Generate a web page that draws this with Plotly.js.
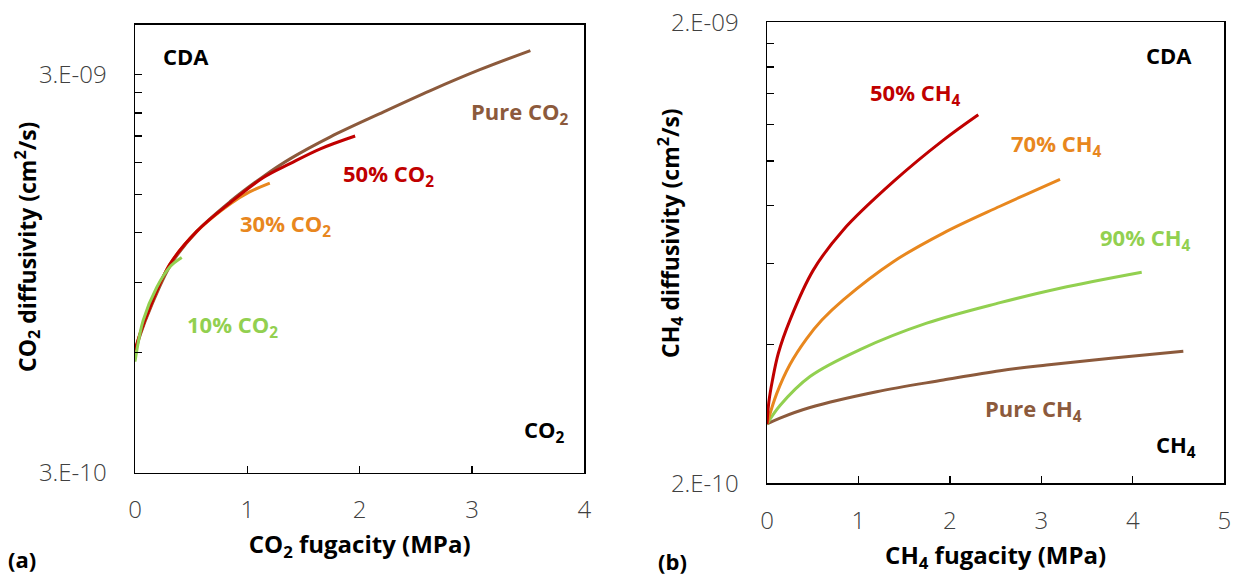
<!DOCTYPE html>
<html>
<head>
<meta charset="utf-8">
<script src="https://cdn.plot.ly/plotly-3.0.1.min.js"></script>
<style>html,body{margin:0;padding:0;background:#fff;}#chart{width:1239px;height:577px;}</style>
</head>
<body>
<div id="chart"></div>
<script>
// ---- Panel (a): CO2 diffusivity vs CO2 fugacity (MPa) ----
const pureCO2_f = [0, 0.05, 0.14, 0.32, 0.55, 0.85, 1.14, 1.38, 1.74, 2.18, 2.63, 3.07, 3.52];
const pureCO2_D = [6.0e-10, 6.7e-10, 7.8e-10, 1.0e-9, 1.21e-9, 1.44e-9, 1.66e-9, 1.84e-9, 2.09e-9, 2.39e-9, 2.73e-9, 3.08e-9, 3.44e-9];
const co2_50_f = [0, 0.045, 0.134, 0.31, 0.55, 0.85, 1.14, 1.38, 1.65, 1.96];
const co2_50_D = [6.1e-10, 6.7e-10, 7.8e-10, 1.0e-9, 1.21e-9, 1.43e-9, 1.65e-9, 1.79e-9, 1.95e-9, 2.10e-9];
const co2_30_f = [0, 0.045, 0.134, 0.31, 0.55, 0.85, 1.02, 1.2];
const co2_30_D = [6.0e-10, 6.7e-10, 7.8e-10, 1.0e-9, 1.21e-9, 1.42e-9, 1.52e-9, 1.60e-9];
const co2_10_f = [0, 0.074, 0.193, 0.312, 0.416];
const co2_10_D = [5.7e-10, 7.25e-10, 8.75e-10, 9.86e-10, 1.04e-9];

// ---- Panel (b): CH4 diffusivity vs CH4 fugacity (MPa) ----
const ch4_50_f = [0, 0.02, 0.06, 0.124, 0.251, 0.506, 0.834, 1.381, 1.928, 2.31];
const ch4_50_D = [2.69e-10, 3.0e-10, 3.35e-10, 3.83e-10, 4.52e-10, 5.80e-10, 7.09e-10, 9.02e-10, 1.11e-9, 1.26e-9];
const ch4_70_f = [0, 0.106, 0.251, 0.434, 0.6, 0.834, 1.381, 1.928, 2.548, 3.204];
const ch4_70_D = [2.69e-10, 3.13e-10, 3.62e-10, 4.12e-10, 4.52e-10, 5.0e-10, 6.05e-10, 6.98e-10, 7.98e-10, 9.13e-10];
const ch4_90_f = [0, 0.142, 0.47, 1.017, 1.746, 2.548, 3.204, 4.097];
const ch4_90_D = [2.69e-10, 2.95e-10, 3.41e-10, 3.90e-10, 4.45e-10, 4.93e-10, 5.30e-10, 5.74e-10];
const pureCH4_f = [0, 0.142, 0.47, 1.199, 1.928, 2.548, 3.058, 3.787, 4.552];
const pureCH4_D = [2.69e-10, 2.77e-10, 2.92e-10, 3.16e-10, 3.35e-10, 3.51e-10, 3.61e-10, 3.74e-10, 3.87e-10];

// ---- Tick labels ----
const aTickVals = [3e-10, 3e-9];
const aTickText = ['3.E-10', '3.E-09'];
const aMinorVals = [6e-10, 9e-10, 1.2e-9, 1.5e-9, 1.8e-9, 2.1e-9, 2.4e-9, 2.7e-9];
const bTickVals = [2e-10, 2e-9];
const bTickText = ['2.E-10', '2.E-09'];
const bMinorVals = [4e-10, 6e-10, 8e-10, 1e-9, 1.2e-9, 1.4e-9, 1.6e-9, 1.8e-9];
const aXTicks = [0, 1, 2, 3, 4];
const bXTicks = [0, 1, 2, 3, 4, 5];

const BROWN = '#8C5A3C', RED = '#C00000', ORANGE = '#E8871E', GREEN = '#92D050';
const W = 1239, H = 577;
const px = x => x / W, py = y => 1 - y / H;

function line(x, y, color, xa, ya, name) {
  return {x: x, y: y, type: 'scatter', mode: 'lines', name: name, xaxis: xa, yaxis: ya,
    line: {color: color, width: 3, shape: 'spline', smoothing: 1}, hoverinfo: 'skip'};
}

const traces = [
  line(pureCO2_f, pureCO2_D, BROWN, 'x', 'y', 'Pure CO2'),
  line(co2_30_f, co2_30_D, ORANGE, 'x', 'y', '30% CO2'),
  line(co2_50_f, co2_50_D, RED, 'x', 'y', '50% CO2'),
  line(co2_10_f, co2_10_D, GREEN, 'x', 'y', '10% CO2'),
  line(pureCH4_f, pureCH4_D, BROWN, 'x2', 'y2', 'Pure CH4'),
  line(ch4_90_f, ch4_90_D, GREEN, 'x2', 'y2', '90% CH4'),
  line(ch4_70_f, ch4_70_D, ORANGE, 'x2', 'y2', '70% CH4'),
  line(ch4_50_f, ch4_50_D, RED, 'x2', 'y2', '50% CH4')
];

const FAM = 'Open Sans, Noto Sans, sans-serif';
const tickFont = {family: FAM, size: 24, color: '#404040', weight: 300};
const titleFont = {family: FAM, size: 24, color: '#000', weight: 700};
const annFont = (c, s) => ({family: FAM, size: s || 22, color: c, weight: 700});

const axisCommon = {
  showgrid: false, zeroline: false, showline: true, linecolor: '#000', linewidth: 1.5,
  mirror: true, ticks: 'inside', ticklen: 7, tickwidth: 1.3, tickcolor: '#000',
  tickfont: tickFont, automargin: false, fixedrange: true
};
const minorCommon = (vals) => ({tickmode: 'array', tickvals: vals, ticks: 'inside', ticklen: 7,
  tickwidth: 1.3, tickcolor: '#000', showgrid: false});

function ann(text, x, y, color, size, angle) {
  const a = {text: text, x: px(x), y: py(y), xref: 'paper', yref: 'paper', showarrow: false,
    xanchor: 'center', yanchor: 'middle', font: annFont(color, size)};
  if (angle) a.textangle = angle;
  return a;
}

const layout = {
  width: W, height: H, margin: {l: 0, r: 0, t: 0, b: 0},
  paper_bgcolor: '#fff', plot_bgcolor: '#fff', showlegend: false,
  xaxis: Object.assign({}, axisCommon, {
    domain: [px(135), px(584.3)], range: [0, 4], tickmode: 'array', tickvals: aXTicks,
    ticklabelstandoff: 15, anchor: 'y',
    title: {text: 'CO<sub>2</sub> fugacity (MPa)', font: titleFont, standoff: 12}
  }),
  yaxis: Object.assign({}, axisCommon, {
    type: 'log', domain: [py(472.7), py(24.5)], range: [Math.log10(3e-10), Math.log10(4e-9)],
    tickmode: 'array', tickvals: aTickVals, ticktext: aTickText, minor: minorCommon(aMinorVals),
    ticklabelstandoff: 22, anchor: 'x'
  }),
  xaxis2: Object.assign({}, axisCommon, {
    domain: [px(767), px(1224.3)], range: [0, 5], tickmode: 'array', tickvals: bXTicks,
    ticklabelstandoff: 15, anchor: 'y2',
    title: {text: 'CH<sub>4</sub> fugacity (MPa)', font: titleFont, standoff: 12}
  }),
  yaxis2: Object.assign({}, axisCommon, {
    type: 'log', domain: [py(483.3), py(22.3)], range: [Math.log10(2e-10), Math.log10(2e-9)],
    tickmode: 'array', tickvals: bTickVals, ticktext: bTickText, minor: minorCommon(bMinorVals),
    ticklabelstandoff: 22, anchor: 'x2'
  }),
  annotations: [
    ann('CO<sub>2</sub> diffusivity (cm<sup>2</sup>/s)', 27, 247, '#000', 23, -90),
    ann('CH<sub>4</sub> diffusivity (cm<sup>2</sup>/s)', 670, 233, '#000', 23, -90),
    ann('CDA', 186, 56, '#000'),
    ann('Pure CO<sub>2</sub>', 520, 113, BROWN),
    ann('50% CO<sub>2</sub>', 388, 175, RED),
    ann('30% CO<sub>2</sub>', 285.5, 224.5, ORANGE),
    ann('10% CO<sub>2</sub>', 232, 326, GREEN),
    ann('CO<sub>2</sub>', 544, 431, '#000'),
    ann('50% CH<sub>4</sub>', 915, 94, RED),
    ann('70% CH<sub>4</sub>', 1056, 145, ORANGE),
    ann('90% CH<sub>4</sub>', 1145, 239, GREEN),
    ann('CDA', 1169, 55, '#000'),
    ann('Pure CH<sub>4</sub>', 1033, 410, BROWN),
    ann('CH<sub>4</sub>', 1176, 446, '#000'),
    ann('(a)', 22, 559, '#000'),
    ann('(b)', 672, 561, '#000')
  ]
};

Plotly.newPlot('chart', traces, layout, {staticPlot: true, displayModeBar: false});
</script>
</body>
</html>
